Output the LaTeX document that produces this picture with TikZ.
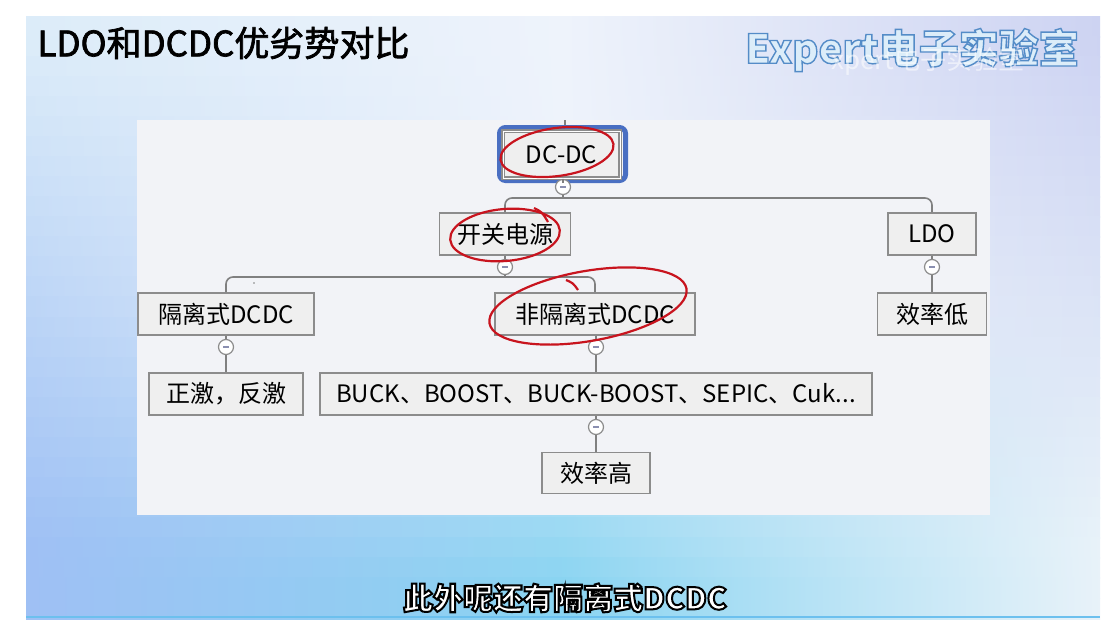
\documentclass[tikz,border=0pt]{standalone}
\usepackage{fontspec}
\setmainfont{Noto Sans CJK SC}
\definecolor{bgL}{HTML}{DCECF9}
\definecolor{bgM}{HTML}{EEF3FB}
\definecolor{bgR}{HTML}{CDD3F2}
\definecolor{btL}{HTML}{9FC0F4}
\definecolor{btM}{HTML}{8AD4F1}
\definecolor{btR}{HTML}{E8F2F9}
\definecolor{edge}{HTML}{6CC0EE}
\definecolor{panel}{HTML}{F2F3F7}
\definecolor{boxfill}{HTML}{EFEFEF}
\definecolor{boxline}{HTML}{8C8C8C}
\definecolor{conn}{HTML}{808080}
\definecolor{frameblue}{HTML}{4A6FC2}
\definecolor{annot}{HTML}{C8141E}
\definecolor{minus}{HTML}{8A8FB0}
\definecolor{wmfill}{HTML}{DCEDF9}
\newcommand{\outlinetext}[3]{\special{pdf:literal direct #1 RG 2 Tr #2 w}#3\special{pdf:literal direct 0 Tr}}
\tikzset{
  mbox/.style={draw=boxline, fill=boxfill, line width=1.6pt, inner sep=0pt,
    font=\fontsize{24}{28}\selectfont, text=black},
  toggle/.style={circle, draw=boxline, fill=white, line width=1.2pt, minimum size=15pt, inner sep=0pt,
    path picture={\draw[minus, line width=1.4pt] ([xshift=-3pt]path picture bounding box.center) -- ([xshift=3pt]path picture bounding box.center);}},
  wire/.style={draw=conn, line width=1.6pt},
  redmark/.style={draw=annot, line width=2.2pt},
}
\begin{document}
\begin{tikzpicture}[x=1pt,y=-1pt]
\useasboundingbox (0,0) rectangle (1114,624);
\fill[white] (0,0) rectangle (1114,624);
% slide background in strips
\foreach \k in {0,...,29} {
  \pgfmathsetmacro\ya{16+\k*20.07}
  \pgfmathsetmacro\yb{\ya+21}
  \pgfmathtruncatemacro\p{max(0,min(100,(\ya+10-40)/5))}
  \pgfmathtruncatemacro\q{max(0,min(100,(\ya+10-300)/2.8))}
  \shade[left color=btL!\p!bgL, right color=btR!\p!bgR, middle color=btM!\q!bgM] (26,\ya) rectangle (1100,\yb);
}
\fill[edge] (26,615.5) rectangle (1100,618);
% title and watermark
\node[anchor=west, font=\fontsize{35}{38}\selectfont] (title) at (34,43) {\outlinetext{0 0 0}{0.7}{LDO和DCDC优劣势对比}};
\node[font=\fontsize{40}{42}\selectfont\bfseries, text=wmfill, anchor=center] (wm) at (912,50) {\outlinetext{0.33 0.55 0.78}{1.4}{Expert电子实验室}};
\node[font=\fontsize{26}{28}\selectfont, text=white, opacity=0.55, anchor=center] (wmghost) at (928,61) {xpert电子实验室};
% diagram panel
\fill[panel] (137,120) rectangle (990,515);
% nodes
\node[draw=frameblue, line width=5pt, rounded corners=6pt, minimum width=126pt, minimum height=53pt, inner sep=0pt] (frame) at (562.5,154) {};
\node[mbox, minimum width=117pt, minimum height=47pt, double=white, double distance=1pt] (dcdc) at (561.5,154.5) {DC-DC};
\node[mbox, minimum width=131pt, minimum height=42pt] (kg) at (505,234) {开关电源};
\node[mbox, minimum width=88pt, minimum height=42pt] (ldo) at (932,234) {LDO};
\node[mbox, minimum width=176pt, minimum height=42pt] (gl) at (226,314) {隔离式DCDC};
\node[mbox, minimum width=200pt, minimum height=42pt] (fgl) at (595,314) {非隔离式DCDC};
\node[mbox, minimum width=109pt, minimum height=42pt] (xdl) at (932,314) {效率低};
\node[mbox, minimum width=154pt, minimum height=42pt] (zj) at (226,394) {正激，反激};
\node[mbox, minimum width=552pt, minimum height=42pt] (buck) at (596,394) {BUCK、BOOST、BUCK-BOOST、SEPIC、Cuk...};
\node[mbox, minimum width=108pt, minimum height=41pt] (xgl) at (596,473) {效率高};
% toggles
\node[toggle] (c1) at (563,187) {};
\node[toggle] (c2) at (505,267) {};
\node[toggle] (c3) at (932,267) {};
\node[toggle] (c4) at (226,347) {};
\node[toggle] (c5) at (596,347) {};
\node[toggle] (c6) at (596,427) {};
% connectors
\coordinate (top) at (565,120);
\coordinate (b1) at (563,198);
\coordinate (b2) at (505,277);
\draw[wire] (top) -- (frame.north -| top);
\draw[wire] (frame.south -| c1) -- (c1);
\draw[wire] (c1) -- (b1);
\draw[wire, rounded corners=7pt] (kg.north) |- (b1) -| (ldo.north);
\draw[wire] (kg.south) -- (c2);
\draw[wire] (c2) -- (b2);
\draw[wire, rounded corners=7pt] (gl.north) |- (b2) -| (fgl.north);
\draw[wire] (ldo.south) -- (c3);
\draw[wire] (c3) -- (xdl.north);
\draw[wire] (gl.south) -- (c4);
\draw[wire] (c4) -- (zj.north);
\draw[wire] (fgl.south -| c5) -- (c5);
\draw[wire] (c5) -- (buck.north -| c5);
\draw[wire] (buck.south -| c6) -- (c6);
\draw[wire] (c6) -- (xgl.north);
\fill[conn] (254,283) circle (0.8pt);
% red annotations
\draw[redmark] (557,152) ellipse [x radius=57, y radius=24, rotate=8];
\draw[redmark] (505,235) ellipse [x radius=55, y radius=26, rotate=5];
\draw[redmark] (534,208) .. controls (542,212) .. (548,222);
\draw[redmark] (588,306) ellipse [x radius=100, y radius=35, rotate=10];
\draw[redmark] (566,280) .. controls (573,283) .. (578,290);
% subtitle
\node[font=\fontsize{30}{32}\selectfont\bfseries, text=white] (sub) at (565,598) {\outlinetext{0 0 0}{2}{此外呢还有隔离式DCDC}};
\end{tikzpicture}
\end{document}
